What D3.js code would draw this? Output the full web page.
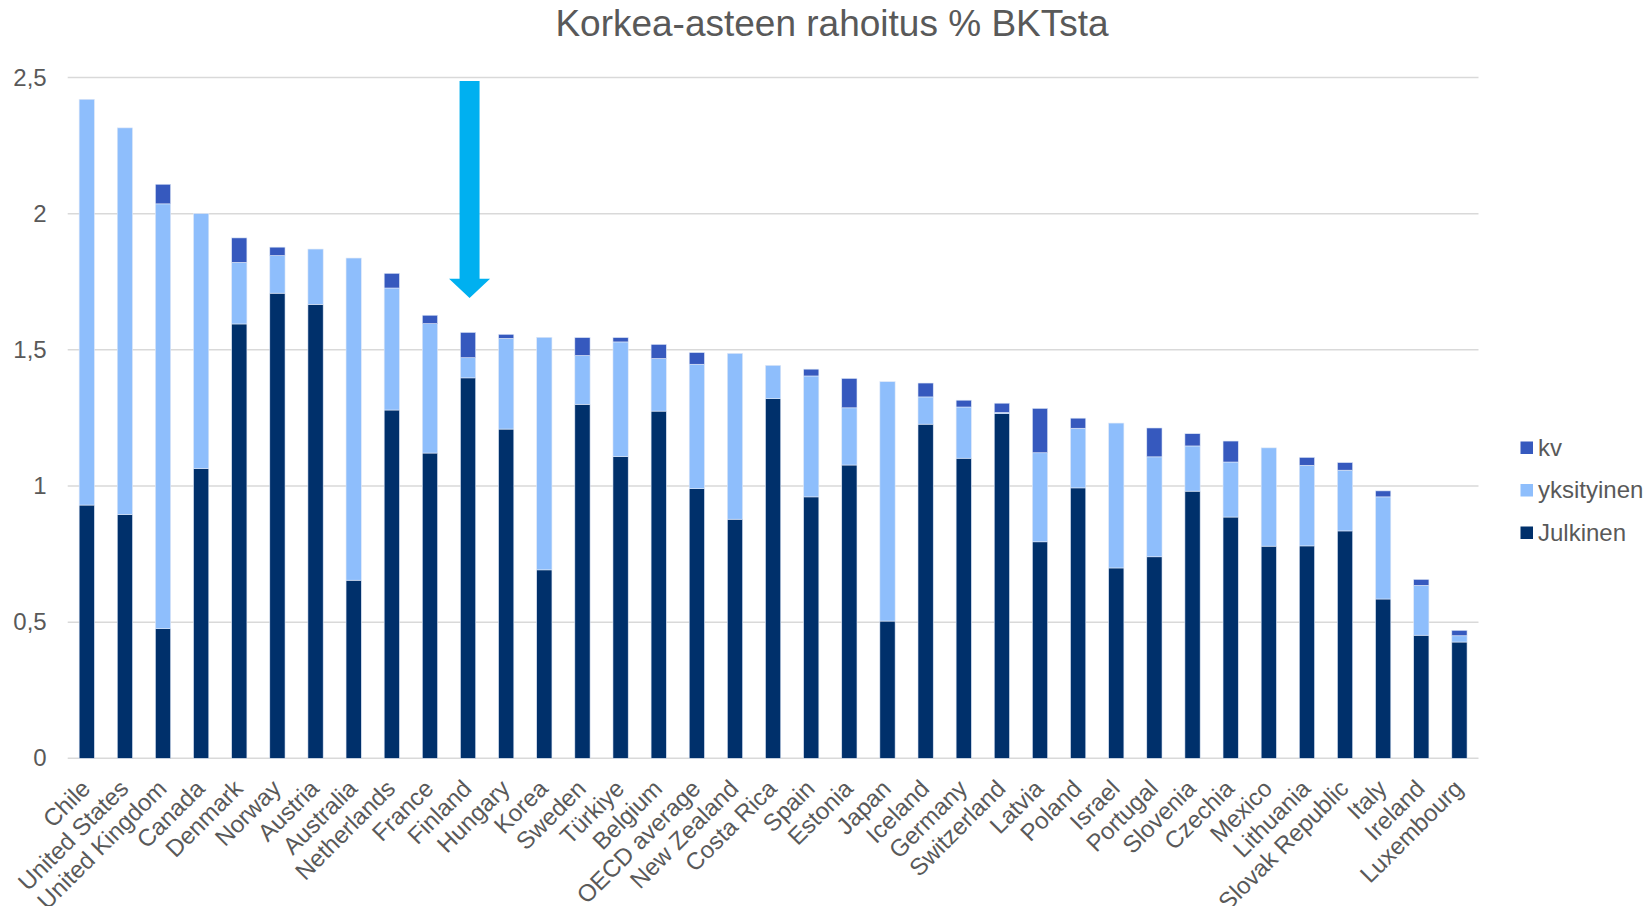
<!doctype html>
<html>
<head>
<meta charset="utf-8">
<title>Korkea-asteen rahoitus % BKTsta</title>
<script src="https://d3js.org/d3.v7.min.js"></script>
<style>
  body { margin: 0; background: #fff; }
  svg text { font-family: "Liberation Sans", Arial, sans-serif; fill: #595959; }
</style>
</head>
<body>
<script>
// data
var countries = ["Chile", "United States", "United Kingdom", "Canada", "Denmark", "Norway",
  "Austria", "Australia", "Netherlands", "France", "Finland", "Hungary", "Korea", "Sweden",
  "Türkiye", "Belgium", "OECD average", "New Zealand", "Costa Rica", "Spain", "Estonia",
  "Japan", "Iceland", "Germany", "Switzerland", "Latvia", "Poland", "Israel", "Portugal",
  "Slovenia", "Czechia", "Mexico", "Lithuania", "Slovak Republic", "Italy", "Ireland", "Luxembourg"];

var julkinen = [0.93, 0.895, 0.476, 1.064, 1.595, 1.708, 1.667, 0.654, 1.279, 1.121, 1.397,
  1.209, 0.692, 1.300, 1.108, 1.275, 0.990, 0.878, 1.321, 0.960, 1.077, 0.504, 1.227, 1.102,
  1.266, 0.795, 0.993, 0.699, 0.740, 0.981, 0.886, 0.779, 0.780, 0.835, 0.585, 0.452, 0.427];

var yksityinen = [1.49, 1.42, 1.56, 0.936, 0.226, 0.138, 0.203, 1.183, 0.448, 0.475, 0.074,
  0.333, 0.854, 0.179, 0.421, 0.193, 0.457, 0.609, 0.122, 0.444, 0.210, 0.879, 0.100, 0.188,
  0.004, 0.327, 0.219, 0.532, 0.367, 0.166, 0.202, 0.361, 0.296, 0.223, 0.375, 0.183, 0.023];

var kv = [0, 0, 0.072, 0, 0.09, 0.031, 0, 0, 0.054, 0.031, 0.093, 0.015, 0, 0.066, 0.016,
  0.052, 0.043, 0, 0, 0.025, 0.108, 0, 0.051, 0.025, 0.034, 0.163, 0.037, 0, 0.106, 0.045,
  0.077, 0, 0.029, 0.028, 0.022, 0.022, 0.020];

var yTicks = [0, 0.5, 1, 1.5, 2, 2.5];
var highlight = "Finland";

var W = 1647, H = 906;
var plotLeft = 67.7, plotRight = 1478.5, plotTop = 77.5, plotBottom = 758.3;

var series = [
  {key: "Julkinen", values: julkinen, color: "#00306B"},
  {key: "yksityinen", values: yksityinen, color: "#8EBEFC"},
  {key: "kv", values: kv, color: "#3659BE"}
];

var rows = countries.map(function(c, i) {
  return {country: c, Julkinen: julkinen[i], yksityinen: yksityinen[i], kv: kv[i]};
});

var svg = d3.select("body").append("svg")
    .attr("width", W)
    .attr("height", H);

var x = d3.scaleBand()
    .domain(countries)
    .range([plotLeft, plotRight])
    .paddingInner(0.6)
    .paddingOuter(0.3);

var y = d3.scaleLinear()
    .domain([0, 2.5])
    .range([plotBottom, plotTop]);

// gridlines
svg.append("g")
  .selectAll("line")
  .data(yTicks)
  .enter().append("line")
    .attr("x1", plotLeft)
    .attr("x2", plotRight)
    .attr("y1", function(d) { return y(d); })
    .attr("y2", function(d) { return y(d); })
    .attr("stroke", "#d9d9d9")
    .attr("stroke-width", 1.5);

// y axis labels
var yAxis = svg.append("g")
    .attr("transform", "translate(" + (plotLeft - 21) + ",0)")
    .call(d3.axisLeft(y).tickValues(yTicks).tickSize(0)
      .tickFormat(function(d) { return String(d).replace(".", ","); }));
yAxis.select(".domain").remove();
yAxis.selectAll("text")
    .attr("x", 0)
    .style("font-size", "24px")
    .style("font-family", "'Liberation Sans', Arial, sans-serif")
    .attr("fill", "#595959");

// stacked bars
var stack = d3.stack().keys(["Julkinen", "yksityinen", "kv"]);
var layers = stack(rows);

svg.append("g")
  .selectAll("g")
  .data(layers)
  .enter().append("g")
    .attr("fill", function(d, i) { return series[i].color; })
  .selectAll("rect")
  .data(function(d) { return d; })
  .enter().append("rect")
    .attr("x", function(d) { return x(d.data.country); })
    .attr("width", x.bandwidth())
    .attr("y", function(d) { return y(d[1]); })
    .attr("height", function(d) { return Math.max(0, y(d[0]) - y(d[1])); })
    .attr("stroke", "#dfe8f7")
    .attr("stroke-width", 0.6);

// x labels, rotated
svg.append("g")
  .selectAll("text")
  .data(countries)
  .enter().append("text")
    .attr("transform", function(d) {
      return "translate(" + (x(d) + x.bandwidth() / 2 + 5) + "," + 790 + ") rotate(-45)";
    })
    .attr("text-anchor", "end")
    .style("font-size", "24px")
    .text(function(d) { return d; });

// title
svg.append("text")
    .attr("x", 832)
    .attr("y", 36)
    .attr("text-anchor", "middle")
    .style("font-size", "37px")
    .text("Korkea-asteen rahoitus % BKTsta");

// arrow pointing at Finland
var ax = x(highlight) + x.bandwidth() / 2 + 1.5;
var aTop = y(2.487), aNeck = y(1.761), aTip = y(1.69);
svg.append("path")
    .attr("d", "M" + (ax - 10) + "," + aTop +
      " L" + (ax + 10) + "," + aTop +
      " L" + (ax + 10) + "," + aNeck +
      " L" + (ax + 20.5) + "," + aNeck +
      " L" + ax + "," + aTip +
      " L" + (ax - 20.5) + "," + aNeck +
      " L" + (ax - 10) + "," + aNeck + " Z")
    .attr("fill", "#00B0F0");

// legend
var legendItems = [series[2], series[1], series[0]];
var legend = svg.append("g")
  .selectAll("g")
  .data(legendItems)
  .enter().append("g")
    .attr("transform", function(d, i) { return "translate(1520.5," + (441.5 + i * 42.5) + ")"; });

legend.append("rect")
    .attr("width", 12.5)
    .attr("height", 12.5)
    .attr("fill", function(d) { return d.color; });

legend.append("text")
    .attr("x", 17.5)
    .attr("y", 14)
    .style("font-size", "24px")
    .text(function(d) { return d.key; });
</script>
</body>
</html>
